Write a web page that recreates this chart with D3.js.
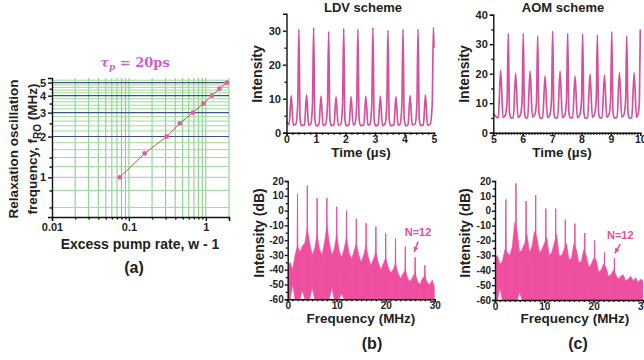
<!DOCTYPE html>
<html>
<head>
<meta charset="utf-8">
<script src="https://cdn.jsdelivr.net/npm/d3@7"></script>
<style>
  body { margin: 0; background: #fff; }
  text { font-family: "Liberation Sans", Arial, sans-serif; font-weight: bold; fill: #222; }
</style>
</head>
<body>
<div id="fig"></div>
<script>
// (a) relaxation oscillation frequency vs excess pump rate
const pumpRate = [0.076, 0.16, 0.31, 0.46, 0.68, 0.93, 1.2, 1.5, 1.88];
const roFreq = [1, 1.5, 2, 2.5, 3, 3.5, 4, 4.5, 5];
const aXTicks = [0.01, 0.1, 1];
const aXMinor = [0.02, 0.03, 0.04, 0.05, 0.06, 0.07, 0.08, 0.09, 0.2, 0.3, 0.4, 0.5, 0.6, 0.7, 0.8, 0.9, 2];
const aYTicks = [1, 2, 3, 4, 5];
const aYMinor = [0.6, 0.8, 1.2, 1.4, 2.5, 3.5, 4.5];
const aYGridLight = [0.6, 0.8, 1.2, 1.4, 1.6, 1.8, 2.2, 2.4, 2.6, 2.8, 3.2, 3.4, 3.6, 3.8, 4.2, 4.4, 4.6, 4.8, 5.2];

// (b) LDV scheme, time trace
const ldvTime = [0, 0.09, 0.16, 0.23, 0.32, 0.38, 0.42, 0.46, 0.51,
  0.61, 0.68, 0.75, 0.82, 0.88, 0.92, 0.96, 1.01,
  1.10, 1.17, 1.24, 1.33, 1.39, 1.43, 1.47, 1.52,
  1.61, 1.68, 1.75, 1.84, 1.90, 1.94, 1.98, 2.03,
  2.12, 2.19, 2.26, 2.32, 2.38, 2.42, 2.46, 2.51,
  2.62, 2.69, 2.76, 2.83, 2.89, 2.93, 2.97, 3.02,
  3.11, 3.18, 3.25, 3.34, 3.40, 3.44, 3.48, 3.53,
  3.64, 3.71, 3.78, 3.85, 3.91, 3.95, 3.99, 4.04,
  4.12, 4.19, 4.26, 4.36, 4.42, 4.46, 4.50, 4.55,
  4.64, 4.71, 4.78, 4.87, 4.94, 4.98, 5.0];
const ldvIntensity = [3.3, 2.4, 10.9, 2.2, 2.6, 8.2, 30.4, 4.0, 2.1,
  2.3, 11.1, 2.2, 2.5, 8.0, 30.9, 4.1, 2.0,
  2.4, 10.8, 2.1, 2.6, 8.3, 29.7, 3.9, 2.1,
  2.3, 10.6, 2.2, 2.5, 8.1, 30.7, 4.0, 2.0,
  2.4, 10.6, 2.3, 2.6, 8.2, 30.5, 4.1, 2.1,
  2.3, 10.8, 2.2, 2.5, 8.0, 30.9, 3.9, 2.0,
  2.4, 10.8, 2.1, 2.6, 8.3, 30.2, 4.0, 2.1,
  2.3, 10.6, 2.2, 2.5, 8.1, 30.5, 4.1, 2.0,
  2.4, 11.0, 2.3, 2.6, 8.2, 30.5, 4.0, 2.1,
  2.3, 11.1, 2.2, 2.5, 8.3, 30.9, 25];

// (c) AOM scheme, time trace
const aomTime = [5.0, 5.17, 5.25, 5.33, 5.41, 5.47, 5.51, 5.55, 5.60,
  5.68, 5.76, 5.84, 5.92, 5.98, 6.02, 6.06, 6.11,
  6.17, 6.25, 6.33, 6.41, 6.47, 6.51, 6.55, 6.60,
  6.68, 6.76, 6.84, 6.92, 6.98, 7.02, 7.06, 7.11,
  7.19, 7.27, 7.35, 7.43, 7.49, 7.53, 7.57, 7.62,
  7.70, 7.78, 7.86, 7.94, 8.00, 8.04, 8.08, 8.13,
  8.21, 8.29, 8.37, 8.44, 8.50, 8.54, 8.58, 8.63,
  8.70, 8.78, 8.86, 8.93, 8.99, 9.03, 9.07, 9.12,
  9.21, 9.29, 9.37, 9.44, 9.50, 9.54, 9.58, 9.63,
  9.71, 9.79, 9.87, 9.92, 9.97, 10.0];
const aomIntensity = [6.5, 5.0, 21.2, 5.2, 6.0, 11, 33.7, 7.0, 5.0,
  5.1, 20.1, 5.2, 6.0, 11, 33.7, 7, 5,
  5.1, 20.9, 5.3, 6.1, 10.8, 32.8, 7, 4.9,
  5.0, 19.2, 5.2, 6.0, 11.2, 34.5, 7, 5.0,
  5.1, 20.9, 5.2, 6.0, 11, 33.7, 7, 5,
  5.0, 19.2, 5.1, 6.0, 10.8, 33.4, 7, 4.9,
  5.1, 19.9, 5.2, 6.1, 11, 33.1, 7, 5,
  5.0, 19.5, 5.2, 6.0, 11.1, 34.2, 7, 5,
  5.1, 20.3, 5.2, 6.0, 10.9, 32.8, 7, 4.9,
  5.0, 20.3, 5.2, 6.0, 11, 35.0];

// spectra: noise band on 0.5 MHz bins, plus harmonic spikes
const specFreq = d3.range(0, 30.01, 0.5);
const ldvNoiseHigh = [-38, -35, -40, -30, -24, -28, -24, -22, -12, -22, -30, -26, -16, -26, -30, -22, -10, -22, -30, -26,
  -16, -27, -32, -26, -18, -28, -33, -28, -22, -30, -35, -30, -24, -32, -37, -33, -28, -35, -40, -36,
  -32, -38, -42, -40, -36, -42, -46, -43, -40, -46, -48, -45, -42, -48, -50, -46, -44, -49, -50, -47, -52];
const ldvNoiseLow = [-60, -60, -50, -60, -60, -60, -54, -60, -60, -60, -52, -60, -60, -60, -60, -60, -60, -60, -52, -60,
  -60, -60, -56, -60, -60, -60, -60, -60, -60, -60, -60, -60, -60, -60, -60, -60, -60, -60, -60, -60,
  -60, -60, -60, -60, -60, -60, -60, -60, -60, -60, -60, -60, -60, -60, -60, -60, -60, -60, -60, -60, -60];
const ldvHarmFreq = [2, 4, 6, 8, 10, 12, 14, 16, 18, 20, 22, 24, 26, 28];
const ldvHarmPeak = [11, 17, 8.5, 8.5, 2.6, 0, -5.5, -8.6, -10.9, -15.4, -19, -24.4, -31.6, -37];

const aomNoiseHigh = [-32, -30, -36, -34, -26, -28, -30, -24, -8, -14, -28, -26, -22, -16, -28, -24, -14, -18, -28, -26,
  -22, -18, -30, -28, -22, -16, -30, -30, -26, -22, -33, -32, -22, -26, -35, -34, -26, -30, -38, -36,
  -32, -33, -41, -40, -36, -38, -44, -43, -40, -43, -46, -44, -43, -47, -46, -44, -47, -45, -48, -46, -47];
const aomNoiseLow = [-60, -60, -52, -60, -60, -60, -60, -60, -60, -60, -55, -60, -60, -60, -60, -60, -60, -60, -60, -60,
  -60, -60, -60, -60, -60, -60, -60, -60, -60, -60, -60, -60, -60, -60, -60, -60, -60, -60, -60, -60,
  -60, -60, -60, -60, -60, -60, -60, -60, -60, -60, -60, -60, -60, -60, -60, -60, -60, -60, -60, -60, -60];
const aomHarmFreq = [2.2, 4.25, 6.3, 8.25, 10.3, 12.3, 14.25, 16.2, 18.2, 20.2, 22.2, 24.2];
const aomHarmPeak = [7.6, 18.4, 6.5, 10.5, 1.5, 1.5, -6, -8.6, -15, -20, -28, -32];

const traceColor = "#d6509e";
const specColor = "#ef4f9f";

const svg = d3.select("#fig").append("svg")
  .attr("width", 644).attr("height", 360)
  .style("background", "#fff");

function styleAxis(g, size) {
  g.selectAll("path, line").attr("stroke", "#111").attr("stroke-width", 1.4);
  g.selectAll("text").style("font-size", size + "px").attr("fill", "#222");
}

// ---------- panel (a) ----------
const ax = d3.scaleLog().domain([0.01, 2]).range([52, 229]);
const ay = d3.scaleLog().domain([0.51, 5.4]).range([217, 78]);
const pa = svg.append("g");

pa.selectAll(".vgrid").data(aXMinor.concat([0.1, 1])).enter().append("line")
  .attr("x1", d => ax(d)).attr("x2", d => ax(d))
  .attr("y1", ay(0.51)).attr("y2", ay(5.4))
  .attr("stroke", "#5fbf5f").attr("stroke-width", 1).attr("opacity", 0.8);
pa.selectAll(".hgrid").data(aYGridLight).enter().append("line")
  .attr("x1", 52).attr("x2", 229)
  .attr("y1", d => ay(d)).attr("y2", d => ay(d))
  .attr("stroke", "#9bdc9b").attr("stroke-width", 1);
pa.selectAll(".hmaj").data(aYTicks).enter().append("line")
  .attr("x1", 52).attr("x2", 229)
  .attr("y1", d => ay(d)).attr("y2", d => ay(d))
  .attr("stroke", d => d === 1 ? "#c4c4e6" : "#44507e").attr("stroke-width", 1.2);

pa.append("g").attr("transform", "translate(0,217)")
  .call(d3.axisBottom(ax).tickValues(aXTicks).tickSize(4).tickPadding(2).tickFormat(d => d))
  .call(g => styleAxis(g, 11));
pa.append("g").attr("transform", "translate(0,217)")
  .call(d3.axisBottom(ax).tickValues(aXMinor).tickSize(2.5).tickFormat(""))
  .call(g => styleAxis(g, 11)).select(".domain").remove();
pa.append("g").attr("transform", "translate(52,0)")
  .call(d3.axisLeft(ay).tickValues(aYTicks).tickSize(4).tickPadding(2).tickFormat(d3.format("d")))
  .call(g => styleAxis(g, 11));
pa.append("g").attr("transform", "translate(52,0)")
  .call(d3.axisLeft(ay).tickValues(aYMinor).tickSize(2.5).tickFormat(""))
  .call(g => styleAxis(g, 11)).select(".domain").remove();

pa.append("path").datum(pumpRate.map((d, i) => [d, roFreq[i]]))
  .attr("d", d3.line().x(d => ax(d[0])).y(d => ay(d[1])))
  .attr("fill", "none").attr("stroke", "#a84c50").attr("stroke-width", 0.9);
pa.selectAll(".pt").data(pumpRate.map((d, i) => [d, roFreq[i]])).enter().append("circle")
  .attr("cx", d => ax(d[0])).attr("cy", d => ay(d[1])).attr("r", 2.4)
  .attr("fill", "#e0609e");

const tau = pa.append("text").attr("x", 135).attr("y", 67).attr("text-anchor", "middle")
  .style("font-family", "'DejaVu Serif', 'Liberation Serif', serif").style("font-size", "13px");
tau.append("tspan").text("τ").style("font-style", "italic").style("fill", "#cf5ccf");
tau.append("tspan").text("p").attr("dy", 3).style("font-size", "9px").style("font-style", "italic").style("fill", "#cf5ccf");
tau.append("tspan").text(" = 20ps").attr("dy", -3).style("fill", "#cf5ccf");

pa.append("text").attr("transform", "translate(18,149) rotate(-90)").attr("text-anchor", "middle")
  .style("font-size", "13.5px").text("Relaxation oscillation");
const lab2 = pa.append("text").attr("transform", "translate(37,149) rotate(-90)").attr("text-anchor", "middle")
  .style("font-size", "13.5px");
lab2.append("tspan").text("frequency, f");
lab2.append("tspan").text("RO").attr("dy", 4).style("font-size", "10px");
lab2.append("tspan").text(" (MHz)").attr("dy", -4);

pa.append("text").attr("x", 140).attr("y", 249).attr("text-anchor", "middle")
  .style("font-size", "14px").text("Excess pump rate, w - 1");
pa.append("text").attr("x", 134).attr("y", 273).attr("text-anchor", "middle")
  .style("font-size", "16px").text("(a)");

// ---------- time traces ----------
function drawTrace(cfg) {
  const x = d3.scaleLinear().domain(cfg.xDomain).range(cfg.xRange);
  const y = d3.scaleLinear().domain(cfg.yDomain).range([132.7, cfg.yTop]);
  const g = svg.append("g");
  g.append("path").datum(cfg.t.map((d, i) => [d, cfg.v[i]]))
    .attr("d", d3.line().x(d => x(d[0])).y(d => y(d[1])).curve(d3.curveMonotoneX))
    .attr("fill", "none").attr("stroke", traceColor).attr("stroke-width", 1.7);
  g.append("g").attr("transform", "translate(0,132.7)")
    .call(d3.axisBottom(x).tickValues(cfg.xTicks).tickSize(3).tickPadding(0).tickFormat(d3.format("d")))
    .call(s => styleAxis(s, 10.5));
  g.append("g").attr("transform", "translate(0,132.7)")
    .call(d3.axisBottom(x).tickValues(cfg.xMinor).tickSize(2).tickFormat(""))
    .call(s => styleAxis(s, 10.5)).select(".domain").remove();
  g.append("g").attr("transform", `translate(${cfg.xRange[0]},0)`)
    .call(d3.axisLeft(y).tickValues(cfg.yTicks).tickSize(3.5).tickPadding(2).tickFormat(d3.format("d")))
    .call(s => styleAxis(s, 11));
  g.append("g").attr("transform", `translate(${cfg.xRange[0]},0)`)
    .call(d3.axisLeft(y).tickValues(cfg.yMinor).tickSize(2).tickFormat(""))
    .call(s => styleAxis(s, 11)).select(".domain").remove();
  g.append("text").attr("x", cfg.titleX).attr("y", 12).attr("text-anchor", "middle")
    .style("font-size", "13px").text(cfg.title);
  g.append("text").attr("transform", `translate(${cfg.yLabelX},74) rotate(-90)`).attr("text-anchor", "middle")
    .style("font-size", "14px").text("Intensity");
  g.append("text").attr("x", cfg.xLabelX).attr("y", 157).attr("text-anchor", "middle")
    .style("font-size", "13.5px").text("Time (µs)");
}

drawTrace({
  t: ldvTime, v: ldvIntensity, xDomain: [0, 5], xRange: [286.5, 434], yDomain: [0, 35], yTop: 13.7,
  xTicks: [0, 1, 2, 3, 4, 5], xMinor: d3.range(0.2, 5, 0.2), yTicks: [0, 10, 20, 30], yMinor: [5, 15, 25],
  title: "LDV scheme", titleX: 363, yLabelX: 262, xLabelX: 361
});
drawTrace({
  t: aomTime, v: aomIntensity, xDomain: [5, 10], xRange: [493.3, 640.3], yDomain: [0, 40], yTop: 14.7,
  xTicks: [5, 6, 7, 8, 9, 10], xMinor: d3.range(5.1, 10, 0.1), yTicks: [0, 10, 20, 30, 40], yMinor: [5, 15, 25, 35],
  title: "AOM scheme", titleX: 563, yLabelX: 469, xLabelX: 562
});

// ---------- spectra ----------
function drawSpectrum(cfg) {
  const x = d3.scaleLinear().domain([0, 30]).range(cfg.xRange);
  const y = d3.scaleLinear().domain([-60, 20]).range([cfg.yBottom, 181]);
  const g = svg.append("g");
  const clipId = "clip" + cfg.id;
  g.append("clipPath").attr("id", clipId).append("rect")
    .attr("x", cfg.xRange[0]).attr("y", 178).attr("width", cfg.xRange[1] - cfg.xRange[0]).attr("height", cfg.yBottom - 178);
  const plot = g.append("g").attr("clip-path", `url(#${clipId})`);
  plot.append("path").datum(specFreq.map((f, i) => [f, cfg.lo[i], cfg.hi[i]]))
    .attr("d", d3.area().x(d => x(d[0])).y0(d => y(d[1])).y1(d => y(d[2])))
    .attr("fill", specColor).attr("stroke", specColor).attr("stroke-width", 0.6);
  plot.selectAll(".spike").data(cfg.hf.map((f, i) => [f, cfg.hp[i]])).enter().append("path")
    .attr("d", d => `M${x(d[0] - 0.13)},${y(-60)}L${x(d[0])},${y(d[1])}L${x(d[0] + 0.13)},${y(-60)}Z`)
    .attr("fill", specColor).attr("stroke", specColor).attr("stroke-width", 1);
  g.append("g").attr("transform", `translate(0,${cfg.yBottom})`)
    .call(d3.axisBottom(x).tickValues([0, 10, 20, 30]).tickSize(3).tickPadding(0))
    .call(s => styleAxis(s, 10));
  g.append("g").attr("transform", `translate(0,${cfg.yBottom})`)
    .call(d3.axisBottom(x).tickValues(d3.range(1, 30, 1)).tickSize(2).tickFormat(""))
    .call(s => styleAxis(s, 10)).select(".domain").remove();
  g.append("g").attr("transform", `translate(${cfg.xRange[0]},0)`)
    .call(d3.axisLeft(y).tickValues(d3.range(-60, 21, 10)).tickSize(3).tickPadding(1).tickFormat(d => String(d)))
    .call(s => styleAxis(s, 10));
  g.append("g").attr("transform", `translate(${cfg.xRange[0]},0)`)
    .call(d3.axisLeft(y).tickValues(d3.range(-55, 20, 10)).tickSize(2).tickFormat(""))
    .call(s => styleAxis(s, 10)).select(".domain").remove();
  g.append("text").attr("transform", `translate(${cfg.yLabelX},233) rotate(-90)`).attr("text-anchor", "middle")
    .style("font-size", "14px").text("Intensity (dB)");
  g.append("text").attr("x", cfg.xLabelX).attr("y", 323).attr("text-anchor", "middle")
    .style("font-size", "13.5px").text("Frequency (MHz)");
  g.append("text").attr("x", cfg.tagX).attr("y", 349).attr("text-anchor", "middle")
    .style("font-size", "16px").text(cfg.tag);
  // N=12 marker
  g.append("text").attr("x", x(cfg.nLabel[0])).attr("y", y(cfg.nLabel[1])).attr("text-anchor", "middle")
    .style("font-size", "11px").style("fill", "#e0509c").text("N=12");
  g.append("line")
    .attr("x1", x(cfg.arrow[0])).attr("y1", y(cfg.arrow[1]))
    .attr("x2", x(cfg.arrow[2])).attr("y2", y(cfg.arrow[3]))
    .attr("stroke", "#e0509c").attr("stroke-width", 1.5);
  const ang = Math.atan2(y(cfg.arrow[3]) - y(cfg.arrow[1]), x(cfg.arrow[2]) - x(cfg.arrow[0])) * 180 / Math.PI;
  g.append("path").attr("d", "M0,0L-5,-2.5L-5,2.5Z")
    .attr("transform", `translate(${x(cfg.arrow[2])},${y(cfg.arrow[3])}) rotate(${ang})`)
    .attr("fill", "#e0509c");
}

drawSpectrum({
  id: "b", xRange: [287.7, 434.7], yBottom: 299.3, lo: ldvNoiseLow, hi: ldvNoiseHigh,
  hf: ldvHarmFreq, hp: ldvHarmPeak, yLabelX: 264, xLabelX: 361, tag: "(b)", tagX: 372,
  nLabel: [26.6, -17], arrow: [26.6, -21, 25.8, -28]
});
drawSpectrum({
  id: "c", xRange: [495, 643], yBottom: 300, lo: aomNoiseLow, hi: aomNoiseHigh,
  hf: aomHarmFreq, hp: aomHarmPeak, yLabelX: 470, xLabelX: 575, tag: "(c)", tagX: 578,
  nLabel: [25.4, -19], arrow: [25.4, -22.4, 24.3, -28.5]
});
</script>
</body>
</html>
